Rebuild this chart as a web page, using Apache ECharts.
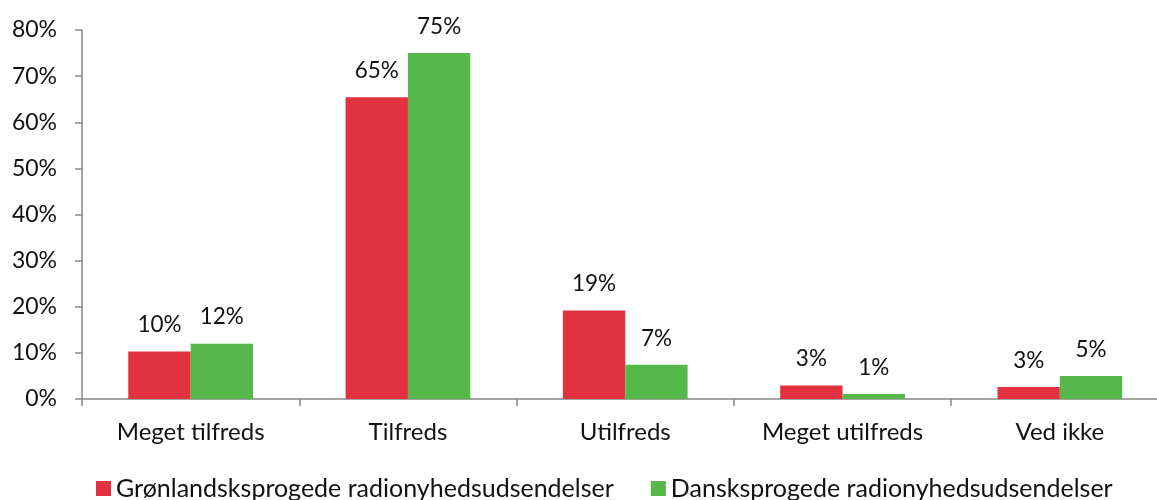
<!DOCTYPE html>
<html>
<head>
<meta charset="utf-8">
<script src="https://cdn.jsdelivr.net/npm/echarts@6/dist/echarts.min.js"></script>
<style>
  html, body { margin: 0; padding: 0; background: #fff; }
  #myChart { width: 1157px; height: 500px; }
</style>
</head>
<body>
<div id="myChart"></div>
<script>
// kategorier og værdier
var categories = ["Meget tilfreds", "Tilfreds", "Utilfreds", "Meget utilfreds", "Ved ikke"];
var seriesNames = ["Grønlandsksprogede radionyhedsudsendelser", "Dansksprogede radionyhedsudsendelser"];
var groenlandsk = [10.3, 65.4, 19.2, 2.9, 2.6];
var dansk = [12.0, 75.0, 7.4, 1.1, 5.0];
var yTicks = [0, 10, 20, 30, 40, 50, 60, 70, 80];

var font = "Lato, 'Open Sans', sans-serif";
var myChart = echarts.init(document.getElementById("myChart"));

var labelStyle = {
  show: true,
  position: "top",
  distance: 15,
  color: "#111",
  fontSize: 22.5,
  fontFamily: font,
  formatter: function (p) { return Math.round(p.value) + "%"; }
};

// grafen er beskåret til højre i originalen, derfor fast bredde ud over kanten
var option = {
  animation: false,
  grid: { left: 82, width: 1086.5, top: 30, bottom: 101, containLabel: false, outerBoundsMode: "none" },
  legend: {
    top: 471,
    left: 91,
    itemWidth: 15,
    itemHeight: 15,
    itemGap: 37,
    icon: "rect",
    textStyle: { fontSize: 25, fontFamily: font, color: "#111" },
    data: seriesNames
  },
  xAxis: {
    type: "category",
    data: categories,
    axisLine: { lineStyle: { color: "#868686", width: 1.5 } },
    axisTick: { show: true, length: 7, lineStyle: { color: "#868686", width: 1.5 } },
    axisLabel: { margin: 21, fontSize: 24, fontFamily: font, color: "#111" }
  },
  yAxis: {
    type: "value",
    min: yTicks[0],
    max: yTicks[yTicks.length - 1],
    interval: 10,
    splitLine: { show: false },
    axisLine: { show: true, lineStyle: { color: "#868686", width: 1.5 } },
    axisTick: { show: true, length: 7, lineStyle: { color: "#868686", width: 1.5 } },
    axisLabel: { margin: 25, fontSize: 23, fontFamily: font, color: "#111", formatter: "{value}%" }
  },
  series: [
    {
      name: seriesNames[0],
      type: "bar",
      data: groenlandsk,
      barGap: "0%",
      barCategoryGap: "42.6%",
      itemStyle: { color: "#E3323F" },
      label: labelStyle
    },
    {
      name: seriesNames[1],
      type: "bar",
      data: dansk,
      barGap: "0%",
      barCategoryGap: "42.6%",
      itemStyle: { color: "#56B84A" },
      label: labelStyle
    }
  ]
};
window.onresize = myChart.resize;
myChart.setOption(option);
</script>
</body>
</html>
